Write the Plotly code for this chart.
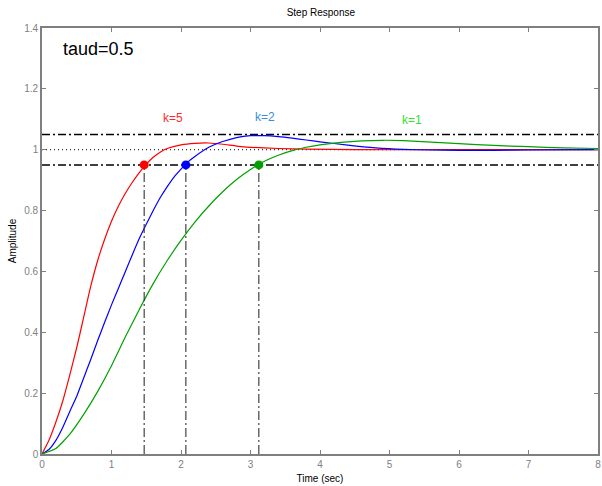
import plotly.graph_objects as go

# ---- data ----
t_k5 = [0, 0.1, 0.2, 0.3, 0.4, 0.5, 0.6, 0.7, 0.8, 0.9, 1.0, 1.1, 1.2, 1.3, 1.4, 1.5, 1.6, 1.7, 1.8,
        2.0, 2.2, 2.4, 2.6, 2.8, 3.0, 3.4, 3.8, 4.5, 6.0, 8.0]
y_k5 = [0, 0.045, 0.105, 0.175, 0.26, 0.35, 0.45, 0.55, 0.635, 0.705, 0.765, 0.815, 0.857, 0.893, 0.925,
        0.952, 0.975, 0.992, 1.004, 1.016, 1.021, 1.022, 1.018, 1.012, 1.008, 1.004, 1.002, 1.0, 1.0, 1.0]

t_k2 = [0, 0.1, 0.2, 0.3, 0.4, 0.5, 0.6, 0.7, 0.8, 0.9, 1.0, 1.1, 1.2, 1.3, 1.4, 1.5, 1.6, 1.7, 1.8, 1.9,
        2.0, 2.1, 2.2, 2.4, 2.6, 2.8, 3.0, 3.2, 3.4, 3.6, 3.8, 4.0, 4.4, 4.8, 5.2, 5.6, 6.0, 6.5, 7.0, 8.0]
y_k2 = [0, 0.015, 0.045, 0.088, 0.14, 0.19, 0.25, 0.31, 0.372, 0.432, 0.49, 0.545, 0.6, 0.655, 0.708,
        0.755, 0.8, 0.842, 0.878, 0.91, 0.936, 0.96, 0.978, 1.008, 1.027, 1.04, 1.046, 1.046, 1.043, 1.038,
        1.032, 1.026, 1.015, 1.006, 1.001, 0.999, 0.998, 0.998, 0.999, 1.0]

t_k1 = [0, 0.2, 0.4, 0.6, 0.8, 1.0, 1.2, 1.4, 1.6, 1.8, 2.0, 2.2, 2.4, 2.6, 2.8, 3.0, 3.2, 3.4, 3.6, 3.8,
        4.0, 4.3, 4.6, 4.9, 5.2, 5.6, 6.0, 6.5, 7.0, 7.5, 8.0]
y_k1 = [0, 0.018, 0.065, 0.13, 0.205, 0.29, 0.385, 0.475, 0.56, 0.635, 0.702, 0.762, 0.815, 0.862, 0.902,
        0.935, 0.962, 0.982, 0.997, 1.008, 1.016, 1.024, 1.029, 1.031, 1.03, 1.025, 1.02, 1.014, 1.01,
        1.006, 1.004]

series_names = ["k=5", "k=2", "k=1"]
series_colors = ["#ff0000", "#0000ff", "#00a000"]
label_colors = ["#ff2a2a", "#3a8ed6", "#33e033"]
label_x = [1.88, 3.21, 5.32]
label_y = [1.104, 1.107, 1.098]

settle_times = [1.47, 2.07, 3.12]
settle_level = 0.95
band_levels = [1.05, 0.95]
final_level = 1.0
t_span = [0, 8]

x_ticks = [0, 1, 2, 3, 4, 5, 6, 7, 8]
y_ticks = [0, 0.2, 0.4, 0.6, 0.8, 1, 1.2, 1.4]
y_tick_text = ["0", "0.2", "0.4", "0.6", "0.8", "1", "1.2", "1.4"]

FONT = "Liberation Sans, Arial, sans-serif"

fig = go.Figure()

# reference lines
for lv in band_levels:
    fig.add_trace(go.Scatter(x=t_span, y=[lv, lv], mode="lines",
                             line=dict(color="black", width=1.5, dash="8px,3px,2px,3px"),
                             hoverinfo="skip", showlegend=False))
fig.add_trace(go.Scatter(x=t_span, y=[final_level, final_level], mode="lines",
                         line=dict(color="black", width=1, dash="1px,3px"),
                         hoverinfo="skip", showlegend=False))

# curves
for t, y, c in zip([t_k5, t_k2, t_k1], [y_k5, y_k2, y_k1], series_colors):
    fig.add_trace(go.Scatter(x=t, y=y, mode="lines",
                             line=dict(color=c, width=1.2, shape="spline", smoothing=0.5),
                             showlegend=False))

# settling vertical lines and markers
for ts in settle_times:
    fig.add_trace(go.Scatter(x=[ts, ts], y=[0, settle_level], mode="lines",
                             line=dict(color="#333333", width=1.1, dash="9px,3px,2px,3px"),
                             hoverinfo="skip", showlegend=False))
for ts, c in zip(settle_times, series_colors):
    fig.add_trace(go.Scatter(x=[ts], y=[settle_level], mode="markers",
                             marker=dict(color=c, size=9, line=dict(width=0)),
                             showlegend=False, cliponaxis=False))

# labels
for name, lx, ly, lc in zip(series_names, label_x, label_y, label_colors):
    fig.add_annotation(x=lx, y=ly, text=name, showarrow=False,
                       font=dict(family=FONT, size=12, color=lc))

fig.add_annotation(x=0.27, y=1.331, text="taud=0.5", showarrow=False, xanchor="left",
                   font=dict(family=FONT, size=18, color="black"))

axis_common = dict(showgrid=False, zeroline=False, showline=True, linecolor="#7f7f7f",
                   linewidth=1.6, mirror="ticks", ticks="inside", ticklen=4,
                   tickcolor="#7f7f7f", tickwidth=1,
                   tickfont=dict(family=FONT, size=10, color="#808080"))

fig.update_layout(
    width=602, height=486,
    margin=dict(l=42, r=2, t=28, b=32),
    paper_bgcolor="white", plot_bgcolor="white",
    title=dict(text="Step Response", x=0.533, xanchor="center", y=0.975, yanchor="middle",
               font=dict(family=FONT, size=10, color="black")),
    xaxis=dict(range=[0, 8], tickvals=x_ticks,
               title=dict(text="Time (sec)", standoff=6, font=dict(family=FONT, size=10, color="black")),
               **axis_common),
    yaxis=dict(range=[0, 1.4], tickvals=y_ticks, ticktext=y_tick_text,
               title=dict(text="Amplitude", standoff=6, font=dict(family=FONT, size=10, color="black")),
               **axis_common),
    showlegend=False,
)

fig.write_html("out.html", config={"displayModeBar": False},
               post_script="document.body.style.margin='0px';")
